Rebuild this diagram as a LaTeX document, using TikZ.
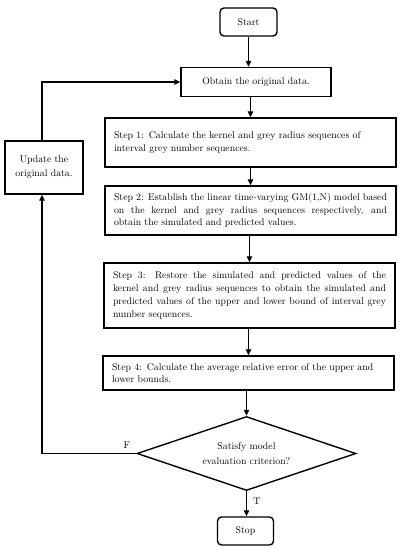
\documentclass[tikz,border=0pt]{standalone}
\usetikzlibrary{shapes.geometric,arrows.meta}

\begin{document}
\begin{tikzpicture}[x=1pt,y=-1pt,line width=1.1pt,
    font=\fontsize{9.8}{12.7}\selectfont,
    arr/.style={-{Triangle[length=6pt,width=5.5pt]}},
    stepbox/.style={draw,line width=1.4pt,inner sep=0pt,minimum width=291pt,text width=273pt},
    terminal/.style={draw,line width=1.4pt,rounded corners=4pt,inner sep=0pt,minimum width=57pt,minimum height=28pt},
    decision/.style={diamond,draw,line width=1.4pt,inner sep=0pt,shape aspect=2.96,minimum width=219pt,minimum height=74pt,align=center,font=\fontsize{9.8}{15.6}\selectfont}]
  \def\loopx{42}

  \useasboundingbox (0,0) rectangle (400,550);

  \node[terminal] (start) at (248.5,22) {Start};
  \node[draw,line width=1.4pt,minimum width=150pt,minimum height=29pt] (obtain) at (256,82) {Obtain the original data.};
  \node[stepbox,minimum height=49pt,align=left] (step1) at (250.5,142.5)
    {Step 1: Calculate the kernel and grey radius sequences of\\interval grey number sequences.};
  \node[stepbox,minimum height=49pt,align=justify] (step2) at (250.5,210.5)
    {Step 2: Establish the linear time-varying GM(1,N) model based\linebreak
     on the kernel and grey radius sequences respectively, and\linebreak
     obtain the simulated and predicted values.};
  \node[stepbox,minimum height=65pt,align=justify] (step3) at (249.5,295.5)
    {Step 3: Restore the simulated and predicted values of the\linebreak
     kernel and grey radius sequences to obtain the simulated and\linebreak
     predicted values of the upper and lower bound of interval grey\linebreak
     number sequences.};
  \node[stepbox,minimum height=34pt,align=left] (step4) at (248.5,373)
    {Step 4: Calculate the average relative error of the upper and\\lower bounds.};
  \node[decision] (check) at (246.5,453.5) {Satisfy model\\evaluation criterion?};
  \node[terminal,minimum width=56pt] (stop) at (245.5,531) {Stop};
  \node[draw,line width=1.4pt,minimum width=78pt,minimum height=53pt,inner sep=0pt,align=center,
    font=\fontsize{9.8}{14}\selectfont] (update) at (44,167.5) {Update the\\original data.};

  \draw[arr] (start) -- (start |- obtain.north);
  \draw[arr] (step1.north |- obtain.south) -- (step1);
  \draw[arr] (step2.north |- step1.south) -- (step2);
  \draw[arr] (step3.north |- step2.south) -- (step3);
  \draw[arr] (step4.north |- step3.south) -- (step4);
  \draw[arr] (check.north |- step4.south) -- (check);
  \draw[arr] (check.south) -- node[pos=0.4,right=3pt] {T} (check.south |- stop.north);
  \draw[arr] (check.west) -| node[pos=0.05,above=1pt] {F} (\loopx,0 |- update.south);
  \draw[arr] (\loopx,0 |- update.north) |- (obtain.west);
\end{tikzpicture}
\end{document}
